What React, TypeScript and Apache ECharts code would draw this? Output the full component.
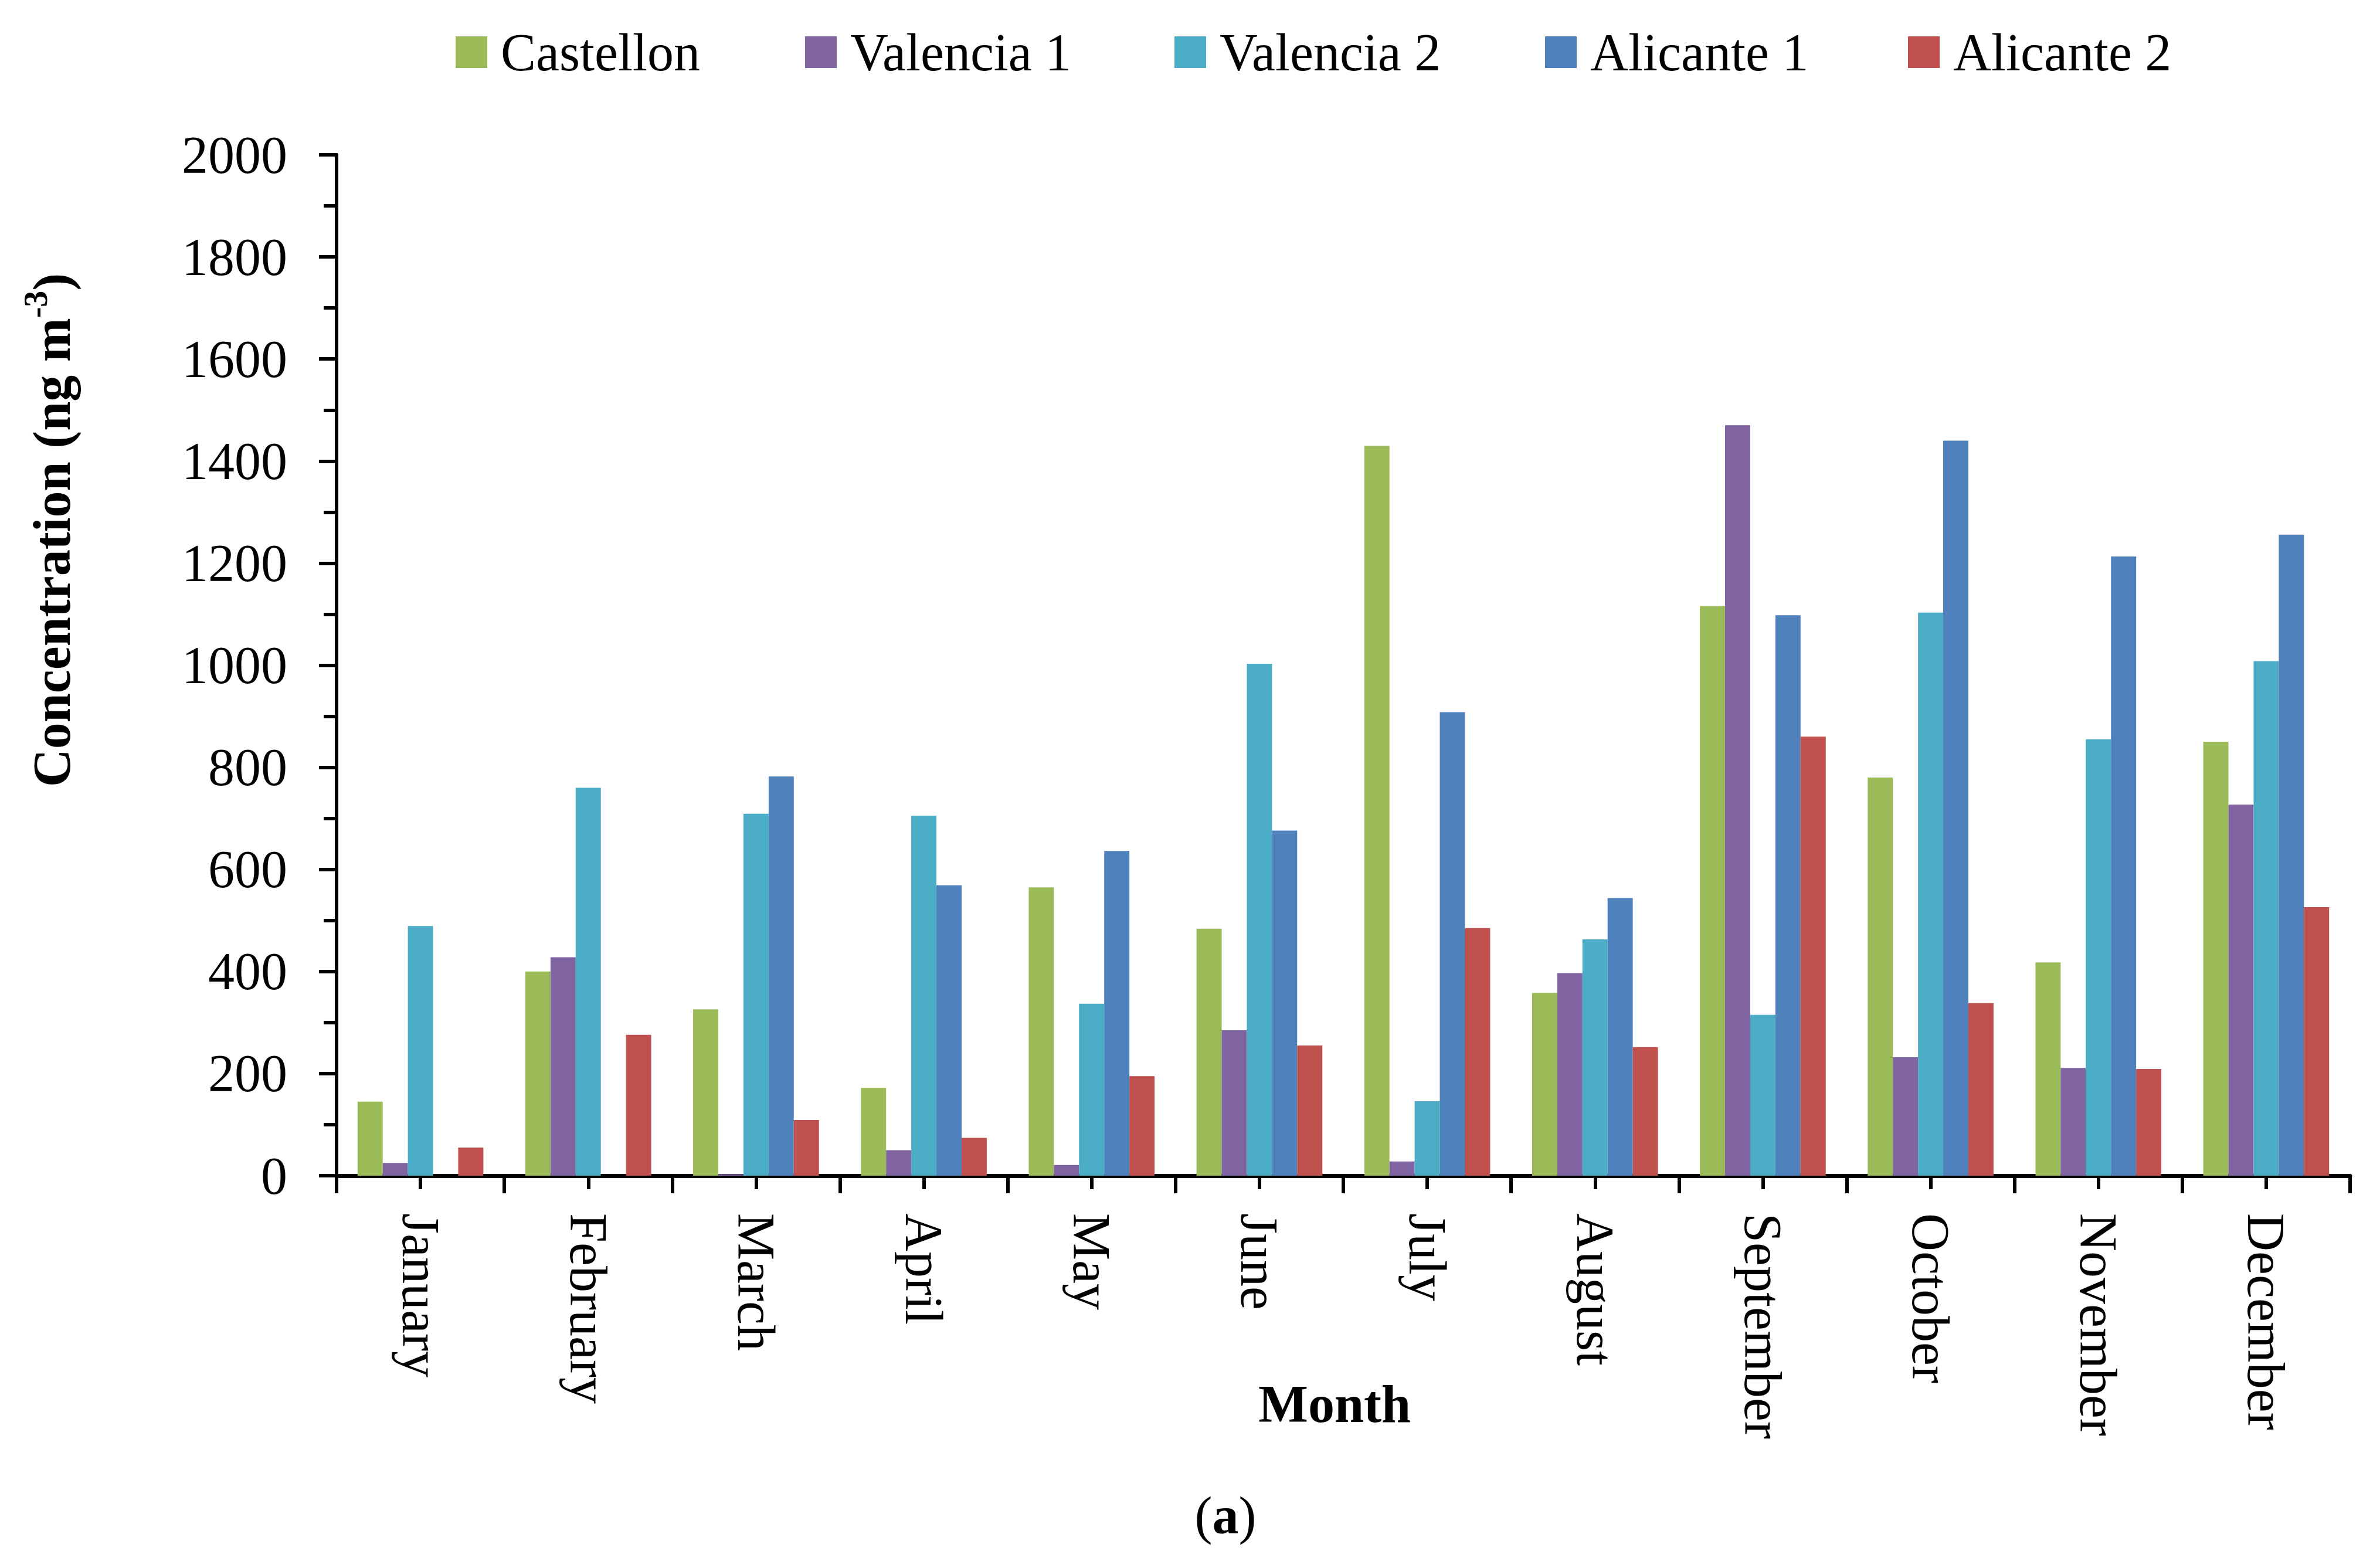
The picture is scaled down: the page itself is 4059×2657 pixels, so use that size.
import React, { useEffect, useRef } from "react";
import * as echarts from "echarts";

const months = ["January", "February", "March", "April", "May", "June", "July", "August", "September", "October", "November", "December"];
const seriesNames = ["Castellon", "Valencia 1", "Valencia 2", "Alicante 1", "Alicante 2"];
const castellon = [145, 400, 326, 172, 565, 484, 1430, 358, 1116, 780, 418, 850];
const valencia1 = [25, 428, 3, 50, 21, 285, 28, 397, 1470, 232, 211, 727];
const valencia2 = [489, 760, 709, 705, 337, 1003, 146, 463, 315, 1103, 855, 1008];
const alicante1 = [null, null, 782, 569, 636, 676, 908, 544, 1098, 1440, 1213, 1256];
const alicante2 = [55, 276, 109, 74, 195, 255, 485, 252, 860, 338, 209, 526];
const colors = ["#9BBB59", "#8064A2", "#4BACC6", "#4F81BD", "#C0504D"];
const legendLefts = [777, 1373, 2003, 2635, 3254];
const yMin = 0;
const yMax = 2000;
const yInterval = 200;

export default function App() {
  const ref = useRef<HTMLDivElement>(null);
  useEffect(() => {
    const chart = echarts.init(ref.current!, null, { renderer: "svg" });
    const font = "'Liberation Serif', 'Times New Roman', serif";
    const fs = 90;
    const data = [castellon, valencia1, valencia2, alicante1, alicante2];
    const option: any = {
      animation: false,
      backgroundColor: "#ffffff",
      legend: seriesNames.map((name, i) => ({
        data: [name],
        left: legendLefts[i],
        top: 44,
        padding: 0,
        icon: "rect",
        itemWidth: 54,
        itemHeight: 54,
        selectedMode: false,
        textStyle: { fontFamily: font, fontSize: fs, color: "#000", lineHeight: 54, padding: [0, 0, 0, 18] },
      })),
      grid: { left: 574, right: 51, top: 264, bottom: 652, containLabel: false },
      xAxis: [
        {
          type: "category",
          data: months,
          position: "bottom",
          axisLine: { show: true, lineStyle: { color: "#000", width: 7 } },
          axisTick: { show: true, interval: 0, length: 30, lineStyle: { color: "#000", width: 6 } },
          axisLabel: { interval: 0, rotate: -90, margin: 64, fontFamily: font, fontSize: fs, color: "#000" },
          splitLine: { show: false },
        },
        {
          type: "category",
          data: months,
          position: "bottom",
          axisLine: { show: false },
          axisTick: { show: true, interval: 0, alignWithLabel: true, length: 23, lineStyle: { color: "#000", width: 6 } },
          axisLabel: { show: false },
          splitLine: { show: false },
        },
      ],
      yAxis: {
        type: "value",
        min: yMin,
        max: yMax,
        interval: yInterval,
        axisLine: { show: true, lineStyle: { color: "#000", width: 6 } },
        axisTick: { show: true, length: 30, lineStyle: { color: "#000", width: 6 } },
        minorTick: { show: true, splitNumber: 2, length: 22, lineStyle: { color: "#000", width: 6 } },
        splitLine: { show: false },
        axisLabel: { margin: 84, fontFamily: font, fontSize: fs, color: "#000", formatter: (v: number) => String(v) },
      },
      series: seriesNames.map((name, i) => ({
        name,
        type: "bar",
        xAxisIndex: 0,
        data: data[i].map((v) => (v === null ? "-" : v)),
        itemStyle: { color: colors[i] },
        barGap: "0%",
        barCategoryGap: "25%",
      })),
      graphic: [
        {
          type: "text",
          x: 83,
          y: 904,
          rotation: Math.PI / 2,
          style: {
            text: "{a|Concentration (ng m}{s|-3}{a|)}",
            textAlign: "center",
            textVerticalAlign: "middle",
            rich: {
              a: { fontFamily: font, fontSize: fs, fontWeight: "bold", fill: "#000", lineHeight: 100, verticalAlign: "bottom" },
              s: { fontFamily: font, fontSize: 56, fontWeight: "bold", fill: "#000", lineHeight: 100, verticalAlign: "top", padding: [0, 0, 40, 0] },
            },
          },
        },
        {
          type: "text",
          x: 2276,
          y: 2394,
          style: { text: "Month", fontFamily: font, fontSize: fs, fontWeight: "bold", fill: "#000", textAlign: "center", textVerticalAlign: "middle" },
        },
        {
          type: "text",
          x: 2090,
          y: 2584,
          style: {
            text: "{r|(}{b|a}{r|)}",
            textAlign: "center",
            textVerticalAlign: "middle",
            rich: {
              r: { fontFamily: font, fontSize: fs, fill: "#000" },
              b: { fontFamily: font, fontSize: fs, fontWeight: "bold", fill: "#000" },
            },
          },
        },
      ],
    };
    chart.setOption(option);
    return () => chart.dispose();
  }, []);
  return <div ref={ref} style={{ position: "absolute", left: 0, top: 0, width: 4059, height: 2657 }} />;
}
